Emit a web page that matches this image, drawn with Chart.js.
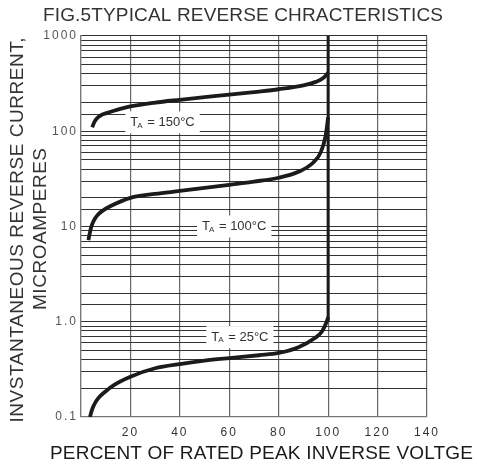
<!DOCTYPE html>
<html>
<head>
<meta charset="utf-8">
<script src="https://cdn.jsdelivr.net/npm/chart.js@4.4.1/dist/chart.umd.min.js"></script>
<style>
  html, body { margin: 0; padding: 0; background: #fff; }
  #wrap { width: 477px; height: 466px; }
</style>
</head>
<body>
<div id="wrap"><canvas id="c" width="477" height="466"></canvas></div>
<script>
// values
const pct150 = [4.5, 5.5, 6.5, 8, 10, 13, 20, 30, 40, 50, 60, 70, 80, 90, 95, 98, 100];
const cur150 = [110, 126, 137, 147, 154, 163, 182, 200, 214, 228, 242, 258, 276, 303, 330, 362, 410];

const pct100 = [3, 4, 5, 6.5, 8.5, 12, 20, 30, 40, 50, 60, 70, 80, 88, 94, 97, 99, 100];
const cur100 = [7.2, 9.6, 11.3, 13, 14.5, 16.4, 20, 22, 23.6, 25.4, 27.4, 29.6, 32.5, 37.5, 47, 60, 90, 140];

const pct25 = [3.6, 4.6, 6, 7.5, 9.5, 13, 20, 30, 40, 50, 60, 72, 80, 88, 94.5, 97.5, 99.4, 100];
const cur25 = [0.1, 0.122, 0.145, 0.163, 0.182, 0.214, 0.265, 0.325, 0.36, 0.39, 0.415, 0.445, 0.47, 0.54, 0.67, 0.79, 1.0, 1.12];

const breakX = [100, 100];
const breakY = [1.0, 1000];

const yLabels = {0.1: '0.1', 1: '1.0', 10: '10', 100: '100', 1000: '1000'};
const xTicks = [20, 40, 60, 80, 100, 120, 140];

// temperature labels: [text after T_A, x %, y current]
const tempLabels = [
  ['150', 33, 124],
  ['100', 62, 10],
  ['25', 64.3, 0.69]
];

function pts(xs, ys) {
  return xs.map((x, i) => ({x: x, y: ys[i]}));
}

function curve(xs, ys) {
  return {
    data: pts(xs, ys),
    borderColor: '#1b1b1b',
    borderWidth: 3.8,
    pointRadius: 0,
    fill: false,
    cubicInterpolationMode: 'monotone'
  };
}

// text stretched to a width using letter spacing
function fitText(ctx, txt, cx, cy, w, font, color) {
  ctx.font = font;
  ctx.letterSpacing = '0px';
  const m = ctx.measureText(txt).width;
  const ls = (w - m) / (txt.length - 1);
  ctx.letterSpacing = ls + 'px';
  ctx.fillStyle = color;
  ctx.textAlign = 'left';
  ctx.textBaseline = 'middle';
  ctx.fillText(txt, cx - w / 2, cy);
  ctx.letterSpacing = '0px';
}

const decor = {
  id: 'decor',
  beforeDraw(chart) {
    chart.ctx.letterSpacing = '2px';
  },
  beforeDatasetsDraw(chart) {
    const ctx = chart.ctx;
    const xs = chart.scales.x, ys = chart.scales.y;
    ctx.save();
    ctx.letterSpacing = '0px';
    tempLabels.forEach(l => {
      const px = xs.getPixelForValue(l[1]);
      const py = ys.getPixelForValue(l[2]);
      const rest = ' = ' + l[0] + '°C';
      ctx.font = '13px "Liberation Sans", Arial';
      const wT = ctx.measureText('T').width;
      const wR = ctx.measureText(rest).width;
      ctx.font = '8px "Liberation Sans", Arial';
      const wA = ctx.measureText('A').width;
      const tot = wT + wA + wR;
      ctx.fillStyle = '#fff';
      ctx.fillRect(px - tot / 2 - 5, py - 11, tot + 10, 22);
      ctx.fillStyle = '#333';
      ctx.textBaseline = 'middle';
      ctx.textAlign = 'left';
      let x0 = px - tot / 2;
      ctx.font = '13px "Liberation Sans", Arial';
      ctx.fillText('T', x0, py);
      ctx.font = '8px "Liberation Sans", Arial';
      ctx.fillText('A', x0 + wT - 1, py + 3);
      ctx.font = '13px "Liberation Sans", Arial';
      ctx.fillText(rest, x0 + wT + wA, py);
    });
    ctx.restore();
  },
  afterDraw(chart) {
    const ctx = chart.ctx;
    ctx.save();
    ctx.letterSpacing = '0px';
    fitText(ctx, 'FIG.5TYPICAL REVERSE CHRACTERISTICS', 243, 16, 400, '19px "Liberation Sans", Arial', '#333');
    fitText(ctx, 'PERCENT OF RATED PEAK INVERSE VOLTGE', 261.5, 454, 423, '19px "Liberation Sans", Arial', '#1a1a1a');
    ctx.save();
    ctx.translate(18, 230);
    ctx.rotate(-Math.PI / 2);
    fitText(ctx, 'INVSTANTANEOUS REVERSE CURRENT,', 0, 0, 385, '19px "Liberation Sans", Arial', '#333');
    ctx.restore();
    ctx.save();
    ctx.translate(41, 229);
    ctx.rotate(-Math.PI / 2);
    fitText(ctx, 'MICROAMPERES', 0, 0, 162, '19px "Liberation Sans", Arial', '#333');
    ctx.restore();
    ctx.restore();
  }
};

new Chart(document.getElementById('c'), {
  type: 'line',
  data: {
    datasets: [
      curve(pct150, cur150),
      curve(pct100, cur100),
      curve(pct25, cur25),
      {
        data: pts(breakX, breakY),
        borderColor: '#1b1b1b',
        borderWidth: 3,
        pointRadius: 0,
        fill: false
      }
    ]
  },
  options: {
    responsive: false,
    animation: false,
    layout: { padding: { top: 36, right: 50, left: 0, bottom: 0 } },
    plugins: { legend: { display: false }, tooltip: { enabled: false } },
    scales: {
      x: {
        type: 'linear',
        min: 0,
        max: 140,
        afterFit(s) { s.height = 49; },
        afterBuildTicks(s) { s.ticks = [0].concat(xTicks).map(v => ({value: v})); },
        ticks: {
          padding: 8,
          color: '#333',
          font: { size: 12, family: '"Liberation Sans", Arial' },
          callback: v => (v === 0 ? '' : String(v))
        },
        grid: { color: '#666', lineWidth: 1.2, drawTicks: false },
        border: { color: '#777', width: 1.2 }
      },
      y: {
        type: 'logarithmic',
        min: 0.1,
        max: 1000,
        afterFit(s) { s.width = 81; },
        ticks: {
          autoSkip: false,
          padding: 3,
          color: '#555',
          font: { size: 12, family: '"Liberation Sans", Arial' },
          callback: v => (yLabels[v] !== undefined ? yLabels[v] : '')
        },
        grid: { color: '#333', lineWidth: 1.1, drawTicks: false },
        border: { color: '#777', width: 1.2 }
      }
    }
  },
  plugins: [decor]
});
</script>
</body>
</html>
